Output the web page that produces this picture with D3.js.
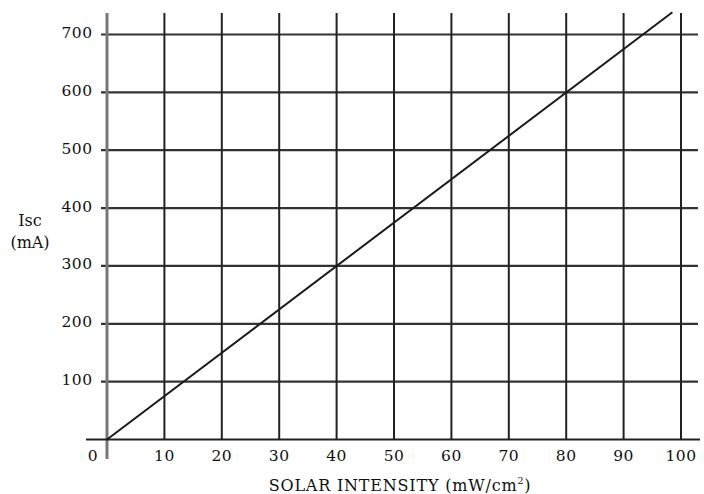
<!DOCTYPE html>
<html><head><meta charset="utf-8">
<script src="https://cdn.jsdelivr.net/npm/d3@7"></script>
<style>body{margin:0;background:#fff}svg{display:block}text{font-family:"DejaVu Serif",serif;fill:#111}</style>
</head><body><svg id="c" width="704" height="494"></svg>
<script>
const xTicks = [0,10,20,30,40,50,60,70,80,90,100];
const yTicks = [100,200,300,400,500,600,700];
const lineX = [0, 98.5];
const lineY = [0, 738.5];
const xLabel = "SOLAR INTENSITY (mW/cm";
const yLabel = ["Isc","(mA)"];

const svg = d3.select("#c");
const x = d3.scaleLinear().domain([0,100]).range([107,681]);
const y = d3.scaleLinear().domain([0,700]).range([439.5,34.5]);
const gridTop = y(737);

// horizontal grid
svg.selectAll(".hg").data(yTicks).join("line")
  .attr("x1",101).attr("x2",698).attr("y1",d=>y(d)).attr("y2",d=>y(d))
  .attr("stroke","#333").attr("stroke-width",2.2);
// vertical grid
svg.selectAll(".vg").data(xTicks.filter(d=>d>0)).join("line")
  .attr("x1",d=>x(d)).attr("x2",d=>x(d)).attr("y1",gridTop).attr("y2",y(0))
  .attr("stroke","#222").attr("stroke-width",2);
// y axis line
svg.append("line").attr("x1",x(0)).attr("x2",x(0)).attr("y1",gridTop).attr("y2",459)
  .attr("stroke","#777").attr("stroke-width",3);
// baseline
svg.append("line").attr("x1",86).attr("x2",700).attr("y1",y(0)).attr("y2",y(0))
  .attr("stroke","#222").attr("stroke-width",2.2);

// data line
const pts = lineX.map((v,i)=>[v,lineY[i]]);
svg.append("path").datum(pts)
  .attr("d", d3.line().x(d=>x(d[0])).y(d=>y(d[1])))
  .attr("fill","none").attr("stroke","#1a1a1a").attr("stroke-width",2);

// tick labels
svg.selectAll(".yl").data(yTicks).join("text")
  .attr("x",92.5).attr("y",d=>y(d)+3.5).attr("text-anchor","end")
  .attr("font-size",15.5).attr("letter-spacing",0.5).text(d=>d);
svg.selectAll(".xl").data(xTicks).join("text")
  .attr("x",d=> d===0 ? 93 : x(d)).attr("y",460.5).attr("text-anchor","middle")
  .attr("font-size",15.5).attr("letter-spacing",0.5).text(d=>d);

// axis titles
svg.selectAll(".yt").data(yLabel).join("text")
  .attr("x",30).attr("y",(d,i)=>226+i*21.5).attr("text-anchor","middle")
  .attr("font-size",16).text(d=>d);
const t = svg.append("text").attr("x",400).attr("y",490.5).attr("text-anchor","middle")
  .attr("font-size",16).attr("letter-spacing",0.8);
t.append("tspan").text(xLabel);
t.append("tspan").attr("font-size",9.5).attr("dy",-6.5).text("2");
t.append("tspan").attr("dy",6.5).text(")");
</script></body></html>
